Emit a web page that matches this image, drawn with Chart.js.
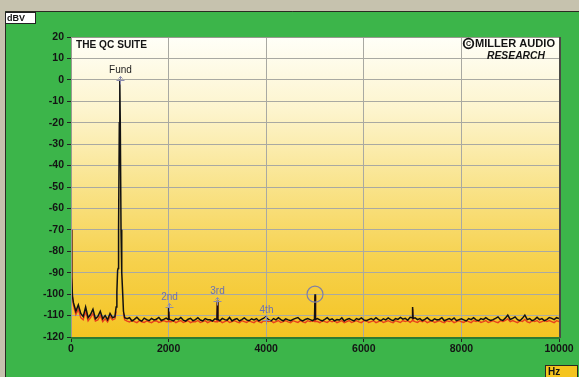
<!DOCTYPE html>
<html>
<head>
<meta charset="utf-8">
<script src="https://cdn.jsdelivr.net/npm/chart.js@4"></script>
<style>
  html, body { margin: 0; padding: 0; overflow: hidden; background: #3cb54a; }
  #wrap { position: relative; width: 579px; height: 377px; }
</style>
</head>
<body>
<div id="wrap"><canvas id="c" width="579" height="377"></canvas></div>
<script>
// Spectrum sample frequencies (Hz)
const freqHz = [
  0,10,20,30,50,75,100,150,200,250,300,350,400,450,500,550,600,650,700,750,800,850,900,
  925,940,955,965,975,990,1000,1010,1025,1035,1045,1060,1075,1100,
  1150,1200,1250,1300,1350,1400,1450,1500,1550,1600,1650,1700,1750,1800,1850,1900,1950,
  1990,2000,2010,
  2050,2100,2150,2200,2250,2300,2350,2400,2450,2500,2550,2600,2650,2700,2750,2800,2850,2900,2950,
  2990,3000,3010,
  3050,3100,3150,3200,3250,3300,3350,3400,3450,3500,3550,3600,3650,3700,3750,3800,3850,3900,3950,
  4000,
  4050,4100,4150,4200,4250,4300,4350,4400,4450,4500,4550,4600,4650,4700,4750,4800,4850,4900,4950,
  4990,5000,5010,
  5050,5100,5150,5200,5250,5300,5350,5400,5450,5500,5550,5600,5650,5700,5750,5800,5850,5900,5950,6000,
  6050,6100,6150,6200,6250,6300,6350,6400,6450,6500,6550,6600,6650,6700,6750,6800,6850,6900,6950,
  6990,7000,7010,
  7050,7100,7150,7200,7250,7300,7350,7400,7450,7500,7550,7600,7650,7700,7750,7800,7850,7900,7950,8000,
  8050,8100,8150,8200,8250,8300,8350,8400,8450,8500,8550,8600,8650,8700,8750,8800,8850,8900,8950,9000,
  9050,9100,9150,9200,9250,9300,9350,9400,9450,9500,9550,9600,9650,9700,9750,9800,9850,9900,9950,10000
];

// Level trace (dBV), black
const levelDbv = [
  -70,-79,-92,-101,-104,-106,-108,-105,-109,-110.5,-106,-111,-109.5,-107,-111.5,-110.5,-108,-111.5,-110,-112,-109,-111,-110.5,
  -106,-99,-89,-88,-70,-20,0,-20,-70,-88,-90,-100,-108,-111,
  -111.5,-111,-112.5,-111.8,-110.8,-112,-112.6,-111.2,-111.9,-112.4,-111.3,-112,-111.7,-110.9,-112.3,-111.8,-111.2,
  -111.8,-106,-111.6,
  -112,-112.5,-111.4,-111.9,-110.9,-112.1,-112.6,-111.7,-111.3,-112.4,-111.9,-111,-112.1,-112.5,-111.4,-111.9,-112,-112.6,-111.5,
  -111.8,-103,-111.8,
  -112.4,-111.3,-111.9,-112.1,-110.9,-112.5,-111.8,-111.4,-112.5,-111.9,-111.1,-112,-112.4,-111.5,-112,-111.4,-112.5,-111.8,-111.2,
  -110.5,
  -111.9,-112.5,-111.4,-112,-111,-111.9,-112.5,-111.5,-112,-112.4,-111.8,-111.3,-110.9,-112,-112.5,-111.8,-111.4,-111.9,-112.4,
  -111.8,-100,-111.8,
  -111.4,-112,-112.5,-111.8,-111,-112,-111.5,-112.5,-111.9,-112.1,-111.1,-112.5,-111.8,-111.4,-112,-112.5,-111.4,-111.9,-111.1,-112,
  -112.4,-111.9,-111.4,-112,-111,-111.9,-112.4,-111.5,-112,-111.1,-111.9,-112.4,-111.4,-111.8,-110.9,-111.7,-111.3,-112.2,-110.8,
  -111,-106,-111.3,
  -111,-111.9,-111.4,-112.4,-111.8,-111,-112,-112.5,-111.5,-112,-111.8,-111,-112.4,-111.9,-111.4,-112,-111.1,-112.4,-111.9,-111.5,
  -112,-112.5,-111.4,-111.9,-111,-112,-112.4,-111.4,-111.9,-111,-111.8,-112.3,-111.9,-111.3,-110.6,-111.9,-112.3,-111.2,-109.8,-111.8,
  -111.3,-110.6,-111.9,-112.4,-111.3,-109.8,-111.9,-111.4,-112.4,-111.9,-110.8,-111.9,-111.4,-112.4,-111.9,-110.9,-111.3,-111.9,-111,-111.4
];

// Second (red) trace, dBV; no samples under the fundamental
const levelDbvRed = [
  -70,-79,-92,-101,-105,-107.5,-109.5,-107,-111,-112,-108,-112.5,-111,-109,-112.5,-112,-110,-112.8,-111.5,-113,-110.5,-112,-111.5,
  -108,null,null,null,null,null,null,null,null,null,null,null,-109,-112,
  -112.6,-113,-112.2,-112.8,-113.3,-112.4,-112.9,-113.2,-112.5,-112.9,-113.3,-112.6,-112.4,-113.2,-112.8,-112.3,-112.9,
  -112.8,-107,-112.8,
  -112.9,-112.4,-113.3,-112.7,-112.3,-113.2,-112.8,-112.4,-113.3,-112.8,-112.9,-112.3,-113.2,-112.8,-112.4,-113.3,-112.7,-112.4,-112.9,
  -112.8,-104,-112.8,
  -112.4,-113.3,-112.8,-112.3,-113.2,-112.8,-112.4,-112.9,-113.3,-112.4,-112.8,-113.2,-112.4,-112.9,-113.3,-112.4,-112.8,-113.3,-112.4,
  -112.6,
  -112.8,-112.4,-113.3,-112.8,-112.3,-113.2,-112.8,-112.4,-112.9,-113.3,-112.4,-112.8,-113.2,-112.4,-112.9,-113.3,-112.4,-112.8,-112.5,
  -112.8,-101,-112.8,
  -112.8,-113.3,-112.4,-112.8,-113.2,-112.4,-112.9,-112.4,-113.3,-112.8,-112.4,-113.3,-112.8,-112.3,-113.2,-112.8,-112.4,-112.9,-113.3,-112.4,
  -112.3,-113.2,-112.8,-112.4,-113.3,-112.8,-112.3,-113.2,-112.8,-112.4,-112.9,-113.3,-112.4,-112.8,-113.2,-112.3,-112.8,-112.4,-113.2,
  -112.4,-107,-112.4,
  -112.8,-113.2,-112.4,-112.9,-112.4,-113.3,-112.8,-112.3,-113.2,-112.8,-112.4,-112.9,-113.3,-112.4,-112.8,-112.4,-113.3,-112.8,-112.3,-112.9,
  -113.2,-112.4,-112.8,-113.3,-112.3,-112.8,-112.4,-113.2,-112.8,-112.3,-113.2,-112.8,-112.4,-112.9,-113.3,-112.4,-112.8,-112.3,-111.6,-112.8,
  -112.3,-112.8,-113.3,-112.4,-112.8,-111.8,-112.9,-113.3,-112.4,-112.8,-112.3,-113.2,-112.8,-112.4,-112.8,-112.3,-112.8,-113.3,-112.4,-112.8
];

// Harmonic markers
const harmonicNames = ['Fund', '2nd', '3rd', '4th'];
const harmonicHz = [1000, 2000, 3000, 4000];
const harmonicDbv = [0, -106, -103, -112];

// Circled component
const circledHz = 5000;
const circledDbv = -100;

// Axis ticks
const xTicks = [0, 2000, 4000, 6000, 8000, 10000];
const yTicks = [20, 10, 0, -10, -20, -30, -40, -50, -60, -70, -80, -90, -100, -110, -120];

const FONT = '"Liberation Sans", Arial, sans-serif';

function fitText(ctx, text, x, y, width) {
  const w = ctx.measureText(text).width;
  ctx.save();
  ctx.translate(x, y);
  ctx.scale(width / w, 1);
  ctx.fillText(text, 0, 0);
  ctx.restore();
}

const framePlugin = {
  id: 'frame',
  beforeDraw(chart) {
    const ctx = chart.ctx;
    const W = chart.width, H = chart.height;
    const a = chart.chartArea;
    ctx.save();
    // window frame
    ctx.fillStyle = '#c6c2ae';
    ctx.fillRect(0, 0, W, H);
    ctx.fillStyle = '#3cb54a';
    ctx.fillRect(5, 11, W - 5, H - 11);
    ctx.strokeStyle = '#2a2a22';
    ctx.lineWidth = 1;
    ctx.beginPath();
    ctx.moveTo(5.5, H); ctx.lineTo(5.5, 11.5); ctx.lineTo(W, 11.5);
    ctx.stroke();
    // plot background
    const g = ctx.createLinearGradient(0, a.top, 0, a.bottom);
    g.addColorStop(0, '#fffff8');
    g.addColorStop(0.25, '#fdf4cc');
    g.addColorStop(0.5, '#f9e38a');
    g.addColorStop(0.75, '#f6d14c');
    g.addColorStop(1, '#f4c422');
    ctx.fillStyle = g;
    ctx.fillRect(a.left, a.top, a.right - a.left, a.bottom - a.top);
    ctx.restore();
  },
  afterDraw(chart) {
    const ctx = chart.ctx;
    const a = chart.chartArea;
    const xs = chart.scales.x, ys = chart.scales.y;
    ctx.save();

    // plot border
    ctx.lineWidth = 1;
    ctx.strokeStyle = '#9a9a90';
    ctx.beginPath();
    ctx.moveTo(a.left + 0.5, a.bottom); ctx.lineTo(a.left + 0.5, a.top + 0.5); ctx.lineTo(a.right, a.top + 0.5);
    ctx.stroke();
    ctx.lineWidth = 2;
    ctx.strokeStyle = '#4a4a44';
    ctx.beginPath();
    ctx.moveTo(a.right + 1, a.top); ctx.lineTo(a.right + 1, a.bottom + 1);
    ctx.stroke();
    ctx.strokeStyle = '#2d7a33';
    ctx.beginPath();
    ctx.moveTo(a.left, a.bottom + 1); ctx.lineTo(a.right + 1, a.bottom + 1);
    ctx.stroke();

    // harmonic markers and labels
    ctx.lineWidth = 1;
    ctx.textAlign = 'center';
    ctx.textBaseline = 'middle';
    harmonicNames.forEach((name, i) => {
      const px = Math.round(xs.getPixelForValue(harmonicHz[i])) + 0.5;
      const py = Math.round(ys.getPixelForValue(harmonicDbv[i])) + 0.5;
      ctx.strokeStyle = '#8c8cae';
      ctx.beginPath();
      ctx.moveTo(px - 4, py); ctx.lineTo(px + 4, py);
      ctx.moveTo(px, py - 4); ctx.lineTo(px, py + 4);
      ctx.moveTo(px - 2, py - 2); ctx.lineTo(px, py - 4); ctx.lineTo(px + 2, py - 2);
      ctx.stroke();
      ctx.font = '10px ' + FONT;
      ctx.fillStyle = i === 0 ? '#1e1e1e' : '#6a70b4';
      ctx.fillText(name, px, py - 10);
    });

    // circled component
    ctx.strokeStyle = '#8080a4';
    ctx.lineWidth = 1.2;
    ctx.beginPath();
    ctx.arc(xs.getPixelForValue(circledHz), ys.getPixelForValue(circledDbv), 8, 0, Math.PI * 2);
    ctx.stroke();

    // title
    ctx.fillStyle = '#141414';
    ctx.textAlign = 'left';
    ctx.font = 'bold 10.5px ' + FONT;
    fitText(ctx, 'THE QC SUITE', a.left + 5, a.top + 8, 71);

    // logo
    ctx.strokeStyle = '#141414';
    ctx.lineWidth = 1.8;
    ctx.beginPath();
    ctx.arc(468.5, 43.5, 4.8, 0, Math.PI * 2);
    ctx.stroke();
    ctx.textAlign = 'center';
    ctx.font = 'bold 7px ' + FONT;
    ctx.fillText('C', 468.5, 44);
    ctx.textAlign = 'left';
    ctx.font = 'bold 10.5px ' + FONT;
    fitText(ctx, 'MILLER AUDIO', 475, 44, 80);
    ctx.font = 'italic bold 10.5px ' + FONT;
    fitText(ctx, 'RESEARCH', 487, 56, 58);

    // unit boxes
    ctx.lineWidth = 1;
    ctx.fillStyle = '#ffffff';
    ctx.fillRect(5, 12, 31, 12);
    ctx.strokeStyle = '#222';
    ctx.strokeRect(5.5, 12.5, 30, 11);
    ctx.fillStyle = '#141414';
    ctx.font = 'bold 9px ' + FONT;
    ctx.textBaseline = 'middle';
    ctx.fillText('dBV', 7, 18.5);

    ctx.fillStyle = '#f5c41e';
    ctx.fillRect(545, 365, 33, 12);
    ctx.strokeStyle = '#2a2a22';
    ctx.strokeRect(545.5, 365.5, 32, 12);
    ctx.fillStyle = '#141414';
    ctx.font = 'bold 10px ' + FONT;
    ctx.fillText('Hz', 548, 372);

    ctx.restore();
  }
};

const pts = (levels) => freqHz.map((f, i) => ({ x: f, y: levels[i] }));

new Chart(document.getElementById('c'), {
  type: 'line',
  data: {
    datasets: [
      {
        data: pts(levelDbvRed),
        borderColor: '#e8401c',
        borderWidth: 1.4,
        pointRadius: 0,
        tension: 0,
        spanGaps: false,
        order: 2
      },
      {
        data: pts(levelDbv),
        borderColor: '#111111',
        borderWidth: 1.5,
        pointRadius: 0,
        tension: 0,
        order: 1
      }
    ]
  },
  options: {
    responsive: false,
    animation: false,
    devicePixelRatio: 1,
    layout: { padding: { left: 0, top: 37, right: 20, bottom: 0 } },
    plugins: { legend: { display: false }, tooltip: { enabled: false } },
    scales: {
      x: {
        type: 'linear',
        min: 0,
        max: 10000,
        afterFit: (s) => { s.height = 40; },
        afterBuildTicks: (s) => { s.ticks = xTicks.map(v => ({ value: v })); },
        ticks: {
          color: '#141414',
          font: { family: FONT, size: 10.5, weight: 'bold' },
          padding: 1,
          maxRotation: 0,
          callback: (v) => String(v)
        },
        grid: { color: '#a9a9a2', lineWidth: 1, tickLength: 5, tickColor: '#222' },
        border: { display: false }
      },
      y: {
        type: 'linear',
        min: -120,
        max: 20,
        afterFit: (s) => { s.width = 71; },
        afterBuildTicks: (s) => { s.ticks = yTicks.map(v => ({ value: v })); },
        ticks: {
          color: '#141414',
          font: { family: FONT, size: 10.5, weight: 'bold' },
          padding: 3,
          callback: (v) => String(v)
        },
        grid: { color: '#a9a9a2', lineWidth: 1, tickLength: 4, tickColor: '#222' },
        border: { display: false }
      }
    }
  },
  plugins: [framePlugin]
});
</script>
</body>
</html>
